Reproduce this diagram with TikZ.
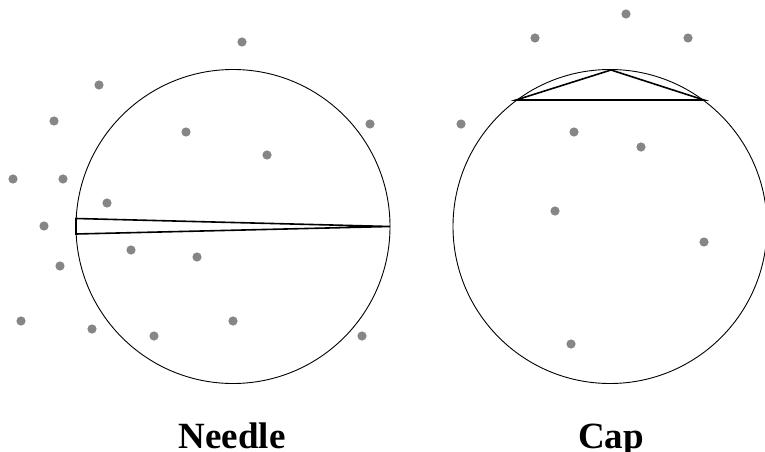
\documentclass[tikz,border=0pt]{standalone}
\usepackage{fontspec}
\setmainfont{Liberation Serif}
\begin{document}
\begin{tikzpicture}[x=1pt,y=-1pt,
  pt/.style={fill=gray!95!white,draw=none},
  ring/.style={draw=black,line width=0.9pt},
  wedge/.style={draw=black,line width=1.6pt,line join=miter},
  lbl/.style={font=\fontsize{37}{40}\selectfont\bfseries,anchor=base,inner sep=0pt}]
\useasboundingbox (0,0) rectangle (765,452);
% circles
\draw[ring] (233,226.5) circle (157);
\draw[ring] (610,226.5) circle (157);
% needle
\draw[wedge] (390,226.5) -- (76,218.5) -- (76,234) -- cycle;
% cap
\draw[wedge] (516,100) -- (611,70) -- (704,100) -- cycle;
% dots left
\foreach \p in {(242,42),(99,85),(54,121),(186,132),(370,124),(267,155),(13,179),(63,179),(107,203),(44,226),(131,250),(197,257),(60,266),(21,321),(92,329),(154,336),(233,321),(362,336)}
  \fill[pt] \p circle (4.6);
% dots right
\foreach \p in {(535,38),(626,14),(688,38),(461,124),(574,132),(641,147),(555,211),(704,242),(571,344)}
  \fill[pt] \p circle (4.6);
\node[lbl] (needle) at (232,448) {Needle};
\node[lbl] (cap) at (611,448) {Cap};
\end{tikzpicture}
\end{document}
